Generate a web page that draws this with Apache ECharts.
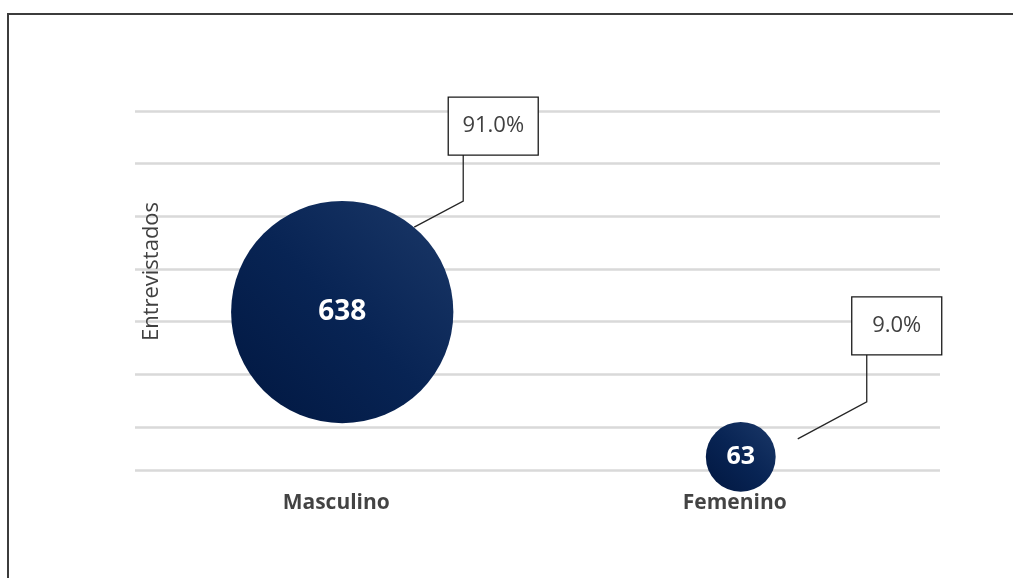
<!DOCTYPE html>
<html lang="es">
<head>
    <meta charset="utf-8">
    <title>Entrevistados por sexo</title>
    <script src="https://cdn.jsdelivr.net/npm/echarts@6/dist/echarts.min.js"></script>
    <style type="text/css">
        html, body {
            width: 100%;
            height: 100%;
            margin: 0px;
            padding: 0px;
            background: #fff;
            overflow: hidden;
        }

        #main {
            width: 1013px;
            height: 578px;
        }

        /* marco del gráfico (solo se ven el borde superior e izquierdo) */
        #frame {
            position: absolute;
            left: 7px;
            top: 13px;
            width: 1100px;
            height: 700px;
            border-left: 2px solid #3c3c3c;
            border-top: 2px solid #3c3c3c;
            pointer-events: none;
        }
    </style>
</head>
<body>
<div id="frame"></div>
<div id="main"></div>
<script>
    // datos
    var categorias = ['Masculino', 'Femenino'];
    var entrevistados = [638, 63];
    var porcentajes = [91.0, 9.0];
    var posX = [1, 2];
    var posY = [3.82, 6.57];

    // posición de las etiquetas de categoría (fila bajo el eje)
    var filaEtiquetas = 7.44;

    // desplazamientos en píxeles de los recuadros de porcentaje
    var callouts = [
        {start: [72, -85], elbow: [121, -111], box: [106, -215]},
        {start: [57, -18], elbow: [126, -55], box: [111, -160]}
    ];
    var boxW = 90, boxH = 58;

    var bubbleData = [];
    var labelData = [];
    var calloutData = [];
    for (var i = 0; i < categorias.length; i++) {
        bubbleData.push({
            name: categorias[i],
            value: [posX[i], posY[i], entrevistados[i]],
            label: {fontSize: i === 0 ? 28 : 25}
        });
        labelData.push({name: categorias[i], value: [posX[i], filaEtiquetas]});
        calloutData.push([posX[i], posY[i], porcentajes[i]]);
    }

    var myChart = echarts.init(document.getElementById('main'));

    var option = {
        backgroundColor: 'transparent',
        animation: false,
        grid: {
            left: 135,
            right: 73,
            top: 111,
            bottom: 108
        },
        xAxis: {
            type: 'value',
            min: 0.48,
            max: 2.5,
            show: false
        },
        yAxis: {
            type: 'value',
            inverse: true,
            min: 0,
            max: 6.82,
            interval: 1,
            name: 'Entrevistados',
            nameLocation: 'middle',
            nameGap: -28,
            nameTextStyle: {
                color: '#404040',
                fontFamily: 'Open Sans',
                fontSize: 22,
                padding: [0, 0, 0, 38]
            },
            axisLine: {show: false},
            axisTick: {show: false},
            axisLabel: {show: false},
            splitLine: {
                show: true,
                showMinLine: true,
                showMaxLine: true,
                lineStyle: {color: '#d9d9d9', width: 2.5}
            }
        },
        series: [
            {
                // burbujas
                type: 'scatter',
                data: bubbleData,
                symbolSize: function (val) {
                    return Math.sqrt(val[2]) * 8.8;
                },
                itemStyle: {
                    color: new echarts.graphic.LinearGradient(1, 0, 0, 1, [
                        {offset: 0, color: '#1b3868'},
                        {offset: 0.5, color: '#082454'},
                        {offset: 1, color: '#011740'}
                    ]),
                    opacity: 1
                },
                label: {
                    show: true,
                    position: 'inside',
                    formatter: function (p) {
                        return p.value[2];
                    },
                    color: '#ffffff',
                    fontFamily: 'Open Sans',
                    fontWeight: 'bold'
                },
                z: 3
            },
            {
                // nombres de categoría
                type: 'scatter',
                data: labelData,
                symbolSize: 0,
                clip: false,
                label: {
                    show: true,
                    position: 'inside',
                    offset: [-6, 0],
                    formatter: '{b}',
                    color: '#141414',
                    fontFamily: 'Open Sans',
                    fontWeight: 'bold',
                    fontSize: 21
                },
                z: 4
            },
            {
                // recuadros de porcentaje con línea guía
                type: 'custom',
                data: calloutData,
                clip: false,
                renderItem: function (params, api) {
                    var c = api.coord([api.value(0), api.value(1)]);
                    var o = callouts[params.dataIndex];
                    var bx = c[0] + o.box[0];
                    var by = c[1] + o.box[1];
                    var ex = c[0] + o.elbow[0];
                    return {
                        type: 'group',
                        children: [
                            {
                                type: 'polyline',
                                shape: {
                                    points: [
                                        [c[0] + o.start[0], c[1] + o.start[1]],
                                        [ex, c[1] + o.elbow[1]],
                                        [ex, by + boxH]
                                    ]
                                },
                                style: {stroke: '#262626', lineWidth: 1.3, fill: null}
                            },
                            {
                                type: 'rect',
                                shape: {x: bx, y: by, width: boxW, height: boxH},
                                style: {fill: '#ffffff', stroke: '#1a1a1a', lineWidth: 1.3}
                            },
                            {
                                type: 'text',
                                style: {
                                    text: api.value(2).toFixed(1) + '%',
                                    x: bx + boxW / 2,
                                    y: by + boxH / 2,
                                    align: 'center',
                                    verticalAlign: 'middle',
                                    fill: '#404040',
                                    fontFamily: 'Open Sans',
                                    fontSize: 22
                                }
                            }
                        ]
                    };
                },
                z: 5
            }
        ]
    };

    myChart.setOption(option);
</script>
</body>
</html>
